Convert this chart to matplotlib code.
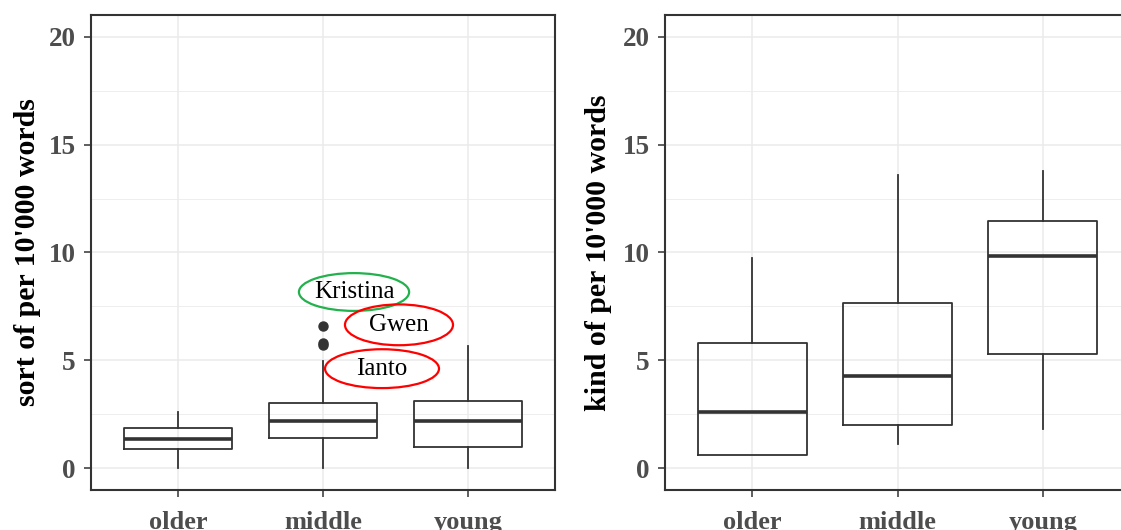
import matplotlib
matplotlib.use("Agg")
import matplotlib.pyplot as plt
from matplotlib.patches import Ellipse

groups = ['older', 'middle', 'young']

# "sort of" per 10'000 words
sort_lo = [0.0, 0.0, 0.0]
sort_q1 = [0.89, 1.40, 0.97]
sort_med = [1.35, 2.18, 2.18]
sort_q3 = [1.86, 3.02, 3.10]
sort_hi = [2.60, 4.97, 5.67]
sort_outliers = [[], [5.72, 5.80, 6.60], []]

# "kind of" per 10'000 words
kind_lo = [0.62, 1.12, 1.82]
kind_q1 = [0.62, 2.02, 5.29]
kind_med = [2.60, 4.28, 9.84]
kind_q3 = [5.81, 7.68, 11.44]
kind_hi = [9.73, 13.59, 13.76]
kind_outliers = [[], [], []]

# annotations on left panel
ann_names = ['Kristina', 'Gwen', 'Ianto']
ann_x = [2.214, 2.524, 2.407]
ann_y = [8.17, 6.65, 4.62]
ann_w = [0.76, 0.745, 0.786]
ann_h = [1.75, 1.89, 1.80]
ann_colors = ['#22B14C', '#FF0000', '#FF0000']

SERIF = ['Liberation Serif', 'DejaVu Serif']
DARK = '#333333'
GRID = '#EBEBEB'

fig = plt.figure(figsize=(11.21, 5.30), dpi=100)
W, H = 1121, 530
ax1 = fig.add_axes([91 / W, (H - 490) / H, 464 / W, 475 / H])
ax2 = fig.add_axes([665 / W, (H - 490) / H, 465 / W, 475 / H])


def make_stats(lo, q1, med, q3, hi, outl):
    return [dict(whislo=lo[i], q1=q1[i], med=med[i], q3=q3[i], whishi=hi[i],
                 fliers=outl[i], label=groups[i]) for i in range(len(groups))]


def style(ax, stats, ylabel, labx):
    ax.bxp(stats, positions=[1, 2, 3], widths=0.75, showcaps=False,
           boxprops=dict(color=DARK, linewidth=1.3),
           whiskerprops=dict(color=DARK, linewidth=1.3),
           medianprops=dict(color=DARK, linewidth=2.6),
           flierprops=dict(marker='o', markerfacecolor=DARK, markeredgecolor=DARK,
                           markersize=6.5, linestyle='none'),
           zorder=3)
    ax.set_xlim(0.4, 3.6)
    ax.set_ylim(-1, 21)
    ax.set_yticks([0, 5, 10, 15, 20])
    ax.set_yticks([2.5, 7.5, 12.5, 17.5], minor=True)
    ax.set_xticks([1, 2, 3])
    ax.set_xticklabels(groups)
    ax.grid(True, which='major', color=GRID, linewidth=1.1, zorder=0)
    ax.grid(True, which='minor', axis='y', color=GRID, linewidth=0.6, zorder=0)
    ax.set_axisbelow(True)
    for s in ax.spines.values():
        s.set_color(DARK)
        s.set_linewidth(1.5)
    ax.tick_params(which='major', length=5, width=1.1, color=DARK, pad=6,
                   labelcolor='#4D4D4D', labelsize=19.5)
    ax.tick_params(axis='x', which='major', pad=10, labelsize=19)
    ax.tick_params(which='minor', length=0)
    for lab in ax.get_xticklabels() + ax.get_yticklabels():
        lab.set_fontfamily(SERIF)
        lab.set_fontweight('bold')
    ax.set_ylabel(ylabel, fontsize=21.5, fontweight='bold', family=SERIF, color='black')
    ax.yaxis.set_label_coords(labx, 0.5)


style(ax1, make_stats(sort_lo, sort_q1, sort_med, sort_q3, sort_hi, sort_outliers),
      "sort of per 10'000 words", -0.108)
style(ax2, make_stats(kind_lo, kind_q1, kind_med, kind_q3, kind_hi, kind_outliers),
      "kind of per 10'000 words", -0.113)

for name, x, y, w, h, c in zip(ann_names, ann_x, ann_y, ann_w, ann_h, ann_colors):
    ax1.add_patch(Ellipse((x, y), w, h, fill=False, edgecolor=c, linewidth=1.6, zorder=5))
    ax1.text(x, y, name, ha='center', va='center', fontsize=18, family=SERIF,
             color='black', zorder=6)

fig.savefig('out.png', dpi=100)
